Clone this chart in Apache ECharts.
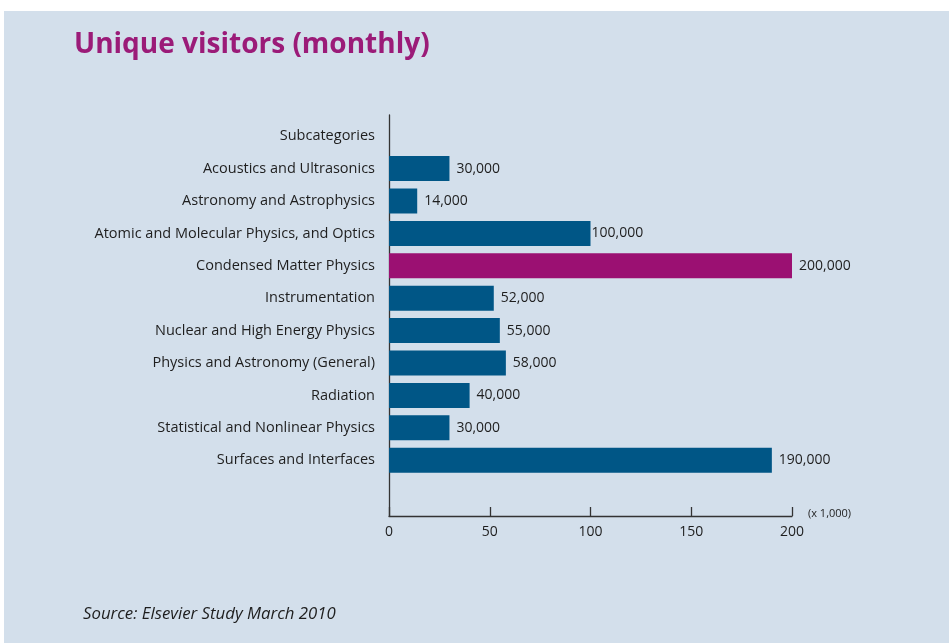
<!DOCTYPE html>
<html>
<head>
<meta charset="utf-8">
<title>Unique visitors (monthly)</title>
<script src="https://cdn.jsdelivr.net/npm/echarts@6/dist/echarts.min.js"></script>
<style>
  html, body { margin: 0; padding: 0; background: #ffffff; }
  .bg { position: absolute; left: 4px; top: 11px; width: 945px; height: 632px; background: #d3dfeb; }
  #main { position: absolute; left: 0; top: 0; width: 949px; height: 643px; }
</style>
</head>
<body>
<div class="bg"></div>
<div id="main"></div>
<script>
// 分类和数值（单位：千）
const categories = [
  'Subcategories',
  'Acoustics and Ultrasonics',
  'Astronomy and Astrophysics',
  'Atomic and Molecular Physics, and Optics',
  'Condensed Matter Physics',
  'Instrumentation',
  'Nuclear and High Energy Physics',
  'Physics and Astronomy (General)',
  'Radiation',
  'Statistical and Nonlinear Physics',
  'Surfaces and Interfaces'
]
const visitors = [null, 30, 14, 100, 200, 52, 55, 58, 40, 30, 190]
const highlightName = 'Condensed Matter Physics'
const xTicks = [0, 50, 100, 150, 200]

const blue = '#005686'
const purple = '#9b1072'
const textColor = '#1e1e1e'
const font = '"Open Sans", "Noto Sans", sans-serif'

const chartInstance = echarts.init(document.getElementById('main'))

const barData = visitors.map((v, i) => {
  if (v === null) return null
  return {
    value: v,
    itemStyle: { color: categories[i] === highlightName ? purple : blue },
    label: { distance: v === 100 ? 1 : 7 }
  }
})

const option = {
  backgroundColor: 'transparent',
  animation: false,
  textStyle: { fontFamily: font },
  title: [
    {
      text: 'Unique visitors (monthly)',
      left: 69,
      top: 26,
      textStyle: { color: '#9b1b78', fontSize: 28, fontWeight: 'bold', fontFamily: font }
    },
    {
      text: 'Source: Elsevier Study March 2010',
      left: 78,
      top: 601,
      textStyle: { color: textColor, fontSize: 16.8, fontStyle: 'italic', fontWeight: 'normal', fontFamily: font }
    }
  ],
  grid: [
    // 柱子所在的网格
    { left: 389, right: 157, top: 120, height: 356.4 },
    // 只画坐标轴线
    { left: 389, right: 157, top: 115, bottom: 127 }
  ],
  xAxis: [
    {
      gridIndex: 0,
      type: 'value',
      min: 0,
      max: 200,
      show: false
    },
    {
      gridIndex: 1,
      type: 'value',
      min: xTicks[0],
      max: xTicks[xTicks.length - 1],
      interval: 50,
      name: '(x 1,000)',
      nameLocation: 'end',
      nameGap: 16,
      nameTextStyle: { color: textColor, fontSize: 11, align: 'left', verticalAlign: 'bottom', lineHeight: 5 },
      axisLine: { show: true, lineStyle: { color: '#333', width: 1.3 } },
      axisTick: { show: true, inside: true, length: 9, lineStyle: { color: '#333', width: 1.3 } },
      axisLabel: { color: textColor, fontSize: 14, margin: 9 },
      splitLine: { show: false }
    }
  ],
  yAxis: [
    {
      gridIndex: 0,
      type: 'category',
      inverse: true,
      data: categories,
      axisLine: { show: false },
      axisTick: { show: false },
      axisLabel: { color: textColor, fontSize: 14.5, margin: 14 }
    },
    {
      gridIndex: 1,
      type: 'value',
      axisLine: { show: true, lineStyle: { color: '#333', width: 1.3 } },
      axisTick: { show: false },
      axisLabel: { show: false },
      splitLine: { show: false }
    }
  ],
  series: [
    {
      type: 'bar',
      xAxisIndex: 0,
      yAxisIndex: 0,
      data: barData,
      barWidth: 25,
      label: {
        show: true,
        position: 'right',
        color: textColor,
        fontSize: 14,
        formatter: p => (p.value * 1000).toLocaleString('en-US')
      }
    }
  ]
}

chartInstance.setOption(option)
</script>
</body>
</html>
